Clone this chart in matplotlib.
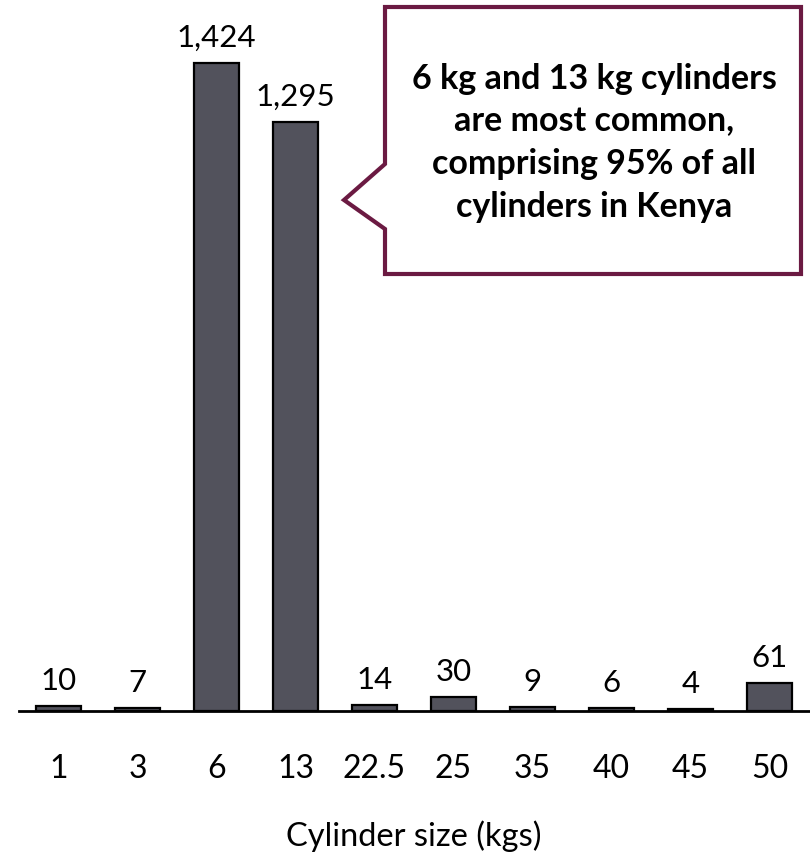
import matplotlib
matplotlib.use("Agg")
import matplotlib.pyplot as plt
from matplotlib.patches import Polygon

plt.rcParams['font.family'] = ['Lato', 'DejaVu Sans']

sizes = ["1", "3", "6", "13", "22.5", "25", "35", "40", "45", "50"]
counts = [10, 7, 1424, 1295, 14, 30, 9, 6, 4, 61]
callout_text = "6 kg and 13 kg cylinders\nare most common,\ncomprising 95% of all\ncylinders in Kenya"
x_title = "Cylinder size (kgs)"

W, H = 810, 863
fig = plt.figure(figsize=(W / 100, H / 100), dpi=100)
ax = fig.add_axes([19 / W, 152 / H, 790 / W, 711 / H])

x = range(len(sizes))
bars = ax.bar(x, counts, width=0.58, color="#52525c", edgecolor="black", linewidth=1.6)
ax.set_xlim(-0.5, len(sizes) - 0.5)
ax.set_ylim(0, 1562)

for xi, v in zip(x, counts):
    ax.annotate(f"{v:,}", (xi, v), xytext=(0, 8), textcoords="offset points",
                ha="center", va="bottom", fontsize=22.5, color="black")

ax.set_xticks(list(x))
ax.set_xticklabels(sizes, fontsize=23)
ax.tick_params(axis="x", length=0, pad=31)
ax.set_yticks([])
for side in ("top", "right", "left"):
    ax.spines[side].set_visible(False)
ax.spines["bottom"].set_linewidth(2)
ax.set_xlabel(x_title, fontsize=23.5, labelpad=26)

# Speech-bubble callout in figure pixel coordinates (origin bottom-left)
def px(xp, yp):
    return (xp / W, 1 - yp / H)

pts = [px(385, 7), px(801, 7), px(801, 274), px(385, 274), px(385, 229),
       px(344, 200), px(385, 164)]
bubble = Polygon(pts, closed=True, transform=fig.transFigure, facecolor="white",
                 edgecolor="#6b1a42", linewidth=3, joinstyle="miter", zorder=5)
fig.patches.append(bubble)
fig.text(594 / W, 1 - 143 / H, callout_text, ha="center", va="center",
         fontsize=24.5, fontweight="bold", linespacing=1.42, zorder=6)

fig.savefig("out.png", dpi=100)
